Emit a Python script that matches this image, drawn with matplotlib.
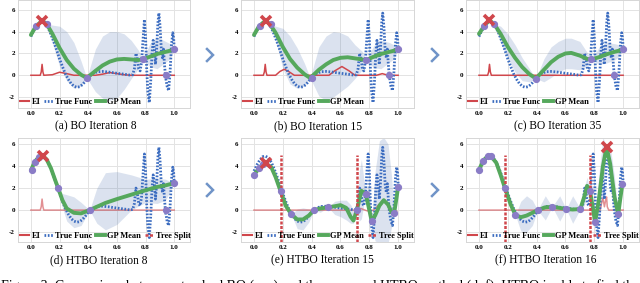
import matplotlib
matplotlib.use('Agg')
import matplotlib.pyplot as plt
from matplotlib.lines import Line2D


W, H = 640, 283

RED = '#d0474c'
BLUE = '#3b6cc0'
GREEN = '#55a85c'
PURPLE = '#8a7cc6'
BAND = '#4C72B0'
ARROW = '#7094c8'

plt.rcParams['font.family'] = ['Liberation Serif', 'DejaVu Serif']

# ---- true function (same in every panel) ----
true_x = [0.00, 0.02, 0.04, 0.06, 0.08, 0.10, 0.12, 0.14, 0.16, 0.18, 0.20, 0.22,
          0.24, 0.26, 0.28, 0.30, 0.32, 0.34, 0.36, 0.38, 0.40, 0.42, 0.44, 0.47,
          0.50, 0.54, 0.58, 0.62, 0.66, 0.69, 0.71, 0.722, 0.733, 0.743, 0.752,
          0.762, 0.772, 0.782, 0.792, 0.800, 0.808, 0.816, 0.826, 0.836, 0.845,
          0.853, 0.861, 0.869, 0.877, 0.886, 0.893, 0.901, 0.910, 0.918, 0.925,
          0.932, 0.939, 0.950, 0.961, 0.971, 0.981, 0.990, 0.996, 1.000]
true_y = [3.55, 4.10, 4.55, 4.85, 4.90, 4.75, 4.35, 3.75, 3.05, 2.30, 1.50, 0.80,
          0.15, -0.35, -0.75, -1.00, -1.10, -1.05, -0.85, -0.55, -0.20, 0.05, 0.22, 0.33,
          0.35, 0.30, 0.22, 0.15, 0.08, 0.02, 0.05, 0.6, 2.0, 1.5, 0.6,
          0.4, 1.2, 3.2, 5.1, 3.5, 0.5, -1.5, -2.5, -0.5, 2.0,
          3.2, 2.5, 1.0, 2.3, 4.8, 5.7, 4.5, 2.3, 1.6, 2.4,
          1.0, -0.1, -1.0, -1.4, 0.3, 2.8, 3.9, 3.4, 2.4]

# ---- (a) BO iteration 8 ----
gp_x_a = [0.00, 0.035, 0.08, 0.11, 0.15, 0.20, 0.25, 0.30, 0.35, 0.39, 0.45, 0.50,
          0.55, 0.60, 0.65, 0.70, 0.75, 0.78, 0.83, 0.88, 0.94, 0.97, 1.00]
gp_mu_a = [3.7, 4.5, 5.0, 4.7, 3.8, 2.5, 1.4, 0.6, 0.05, -0.25, 0.4, 0.9,
           1.25, 1.45, 1.5, 1.45, 1.4, 1.45, 1.7, 1.95, 2.15, 2.25, 2.4]
gp_lo_a = [3.6, 4.5, 5.0, 4.7, 3.0, 0.8, -0.5, -1.2, -1.0, -0.25, -1.5, -2.1,
           -2.3, -2.1, -1.3, -0.3, 0.6, 1.45, 0.8, 0.6, 1.2, 1.5, 2.4]
gp_hi_a = [3.8, 4.5, 5.0, 4.7, 4.6, 4.5, 4.0, 3.0, 1.3, -0.25, 2.4, 3.6,
           4.0, 4.0, 3.8, 3.2, 2.3, 1.45, 2.9, 3.5, 3.1, 2.9, 2.4]
ei_x_a = [0.0, 0.065, 0.072, 0.078, 0.084, 0.09, 0.15, 0.20, 0.25, 0.30, 0.45,
          0.50, 0.55, 0.60, 0.65, 0.70, 1.0]
ei_y_a = [0, 0, 0.3, 1.0, 0.3, 0, 0.05, 0.28, 0.15, 0, 0, 0.1, 0.25, 0.15, 0.05, 0, 0]
obs_x_a = [0.035, 0.11, 0.393, 0.784, 0.94, 1.0]
obs_y_a = [4.5, 4.7, -0.25, 1.45, 0.0, 2.37]
best_a = (0.08, 5.0)

# ---- (b) BO iteration 15 ----
gp_x_b = gp_x_a
gp_mu_b = [3.7, 4.5, 5.0, 4.7, 3.9, 2.6, 1.5, 0.7, 0.1, -0.25, 0.5, 1.0,
           1.4, 1.6, 1.65, 1.55, 1.45, 1.4, 1.7, 1.95, 2.15, 2.25, 2.4]
gp_lo_b = [3.6, 4.5, 5.0, 4.7, 3.2, 0.6, -0.8, -1.2, -1.0, -0.25, -1.9, -2.3,
           -2.0, -1.5, -1.0, -0.3, 0.5, 1.4, 0.7, 0.6, 1.2, 1.5, 2.4]
gp_hi_b = [3.8, 4.5, 5.0, 4.7, 4.5, 4.3, 3.6, 2.5, 1.1, -0.25, 2.6, 3.6,
           4.0, 3.9, 3.6, 2.8, 2.2, 1.4, 2.7, 3.2, 3.0, 2.8, 2.4]
ei_x_b = [0.0, 0.065, 0.072, 0.078, 0.084, 0.09, 0.15, 0.18, 0.21, 0.24, 0.28,
          0.52, 0.56, 0.61, 0.66, 0.70, 0.85, 0.89, 0.93, 1.0]
ei_y_b = [0, 0, 0.3, 1.0, 0.3, 0, 0, 0.35, 0.55, 0.35, 0,
          0, 0.4, 0.8, 0.4, 0, 0, 0.15, 0, 0]
obs_x_b = [0.04, 0.115, 0.40, 0.777, 0.938, 1.0]
obs_y_b = [4.5, 4.7, -0.25, 1.4, 0.0, 2.4]
best_b = (0.08, 5.0)

# ---- (c) BO iteration 35 ----
gp_x_c = [0.00, 0.035, 0.072, 0.105, 0.15, 0.20, 0.25, 0.30, 0.35, 0.395, 0.45, 0.50,
          0.55, 0.60, 0.64, 0.70, 0.75, 0.78, 0.83, 0.88, 0.94, 0.97, 1.00]
gp_mu_c = [3.8, 4.5, 5.05, 4.7, 3.8, 2.6, 1.6, 0.75, 0.1, -0.3, 0.5, 1.2,
           1.7, 2.0, 2.05, 1.8, 1.5, 1.45, 1.65, 1.9, 2.15, 2.25, 2.4]
gp_lo_c = [3.7, 4.5, 5.05, 4.7, 3.0, 1.6, 0.3, -0.5, -0.6, -0.3, -0.6, -0.2,
           0.3, 0.6, 0.6, 0.5, 0.9, 1.45, 1.0, 1.1, 1.4, 1.7, 2.4]
gp_hi_c = [3.9, 4.5, 5.05, 4.7, 4.5, 3.8, 2.8, 1.6, 0.6, -0.3, 1.5, 2.6,
           3.1, 3.4, 3.4, 3.1, 2.1, 1.45, 2.5, 3.0, 2.9, 2.8, 2.4]
ei_x_c = [0.0, 0.06, 0.067, 0.073, 0.079, 0.086, 1.0]
ei_y_c = [0, 0, 0.3, 1.0, 0.3, 0, 0]
obs_x_c = [0.035, 0.105, 0.395, 0.78, 0.94, 1.0]
obs_y_c = [4.5, 4.7, -0.3, 1.45, 0.0, 2.4]
best_c = (0.072, 5.05)

# ---- (d) HTBO iteration 8 ----
gp_x_d = [0.0, 0.02, 0.04, 0.06, 0.086, 0.11, 0.14, 0.17, 0.19, 0.22, 0.25, 0.30,
          0.35, 0.41, 0.46, 0.52, 0.60, 0.70, 0.80, 0.88, 0.94, 1.0]
gp_mu_d = [3.6, 4.2, 4.6, 4.85, 4.9, 4.6, 3.8, 2.7, 2.0, 0.9, 0.15, -0.25,
           -0.3, 0.0, 0.3, 0.65, 1.0, 1.4, 1.8, 2.1, 2.25, 2.45]
gp_lo_d = [3.6, 4.2, 4.6, 4.85, 4.9, 4.6, 3.8, 2.7, 2.0, 0.2, -1.0, -1.6,
           -1.4, 0.0, -1.2, -1.8, -1.3, 0.0, 0.7, 0.6, 0.9, 2.45]
gp_hi_d = [3.6, 4.2, 4.6, 4.85, 4.9, 4.6, 3.8, 2.7, 2.0, 1.5, 1.4, 1.2,
           0.7, 0.0, 2.0, 3.4, 3.5, 3.2, 2.8, 2.9, 2.8, 2.45]
ei_x_d = [0.0, 0.065, 0.072, 0.078, 0.084, 0.09, 1.0]
ei_y_d = [0, 0, 0.3, 1.0, 0.3, 0, 0]
obs_x_d = [0.005, 0.03, 0.055, 0.19, 0.41, 0.94, 1.0]
obs_y_d = [3.6, 4.4, 4.8, 2.0, 0.0, 0.0, 2.5]
best_d = (0.086, 4.9)
split_d = []

# ---- (e) HTBO iteration 15 ----
gp_x_e = [0.0, 0.035, 0.062, 0.085, 0.12, 0.15, 0.185, 0.22, 0.26, 0.30, 0.34, 0.38,
          0.417, 0.46, 0.514, 0.56, 0.60, 0.64, 0.67, 0.69, 0.715, 0.73, 0.745,
          0.775, 0.80, 0.817, 0.84, 0.87, 0.90, 0.93, 0.955, 0.972, 0.985, 1.0]
gp_mu_e = [3.2, 3.8, 4.2, 4.2, 3.9, 3.0, 1.7, 0.4, -0.4, -0.85, -0.85, -0.5,
           0.0, 0.15, 0.25, 0.35, 0.45, 0.2, -0.6, -0.95, 0.05, 0.9, 1.75,
           1.5, 0.0, -1.0, -0.5, 0.4, 0.9, 0.5, -0.2, -0.3, 0.8, 2.1]
gp_lo_e = [3.2, 3.8, 4.2, 4.2, 3.9, 3.0, 1.7, 0.1, -0.4, -1.7, -1.8, -1.1,
           0.0, -0.2, 0.25, -0.4, -0.6, -0.9, -1.2, -1.2, 0.05, -1.0, -0.8,
           1.5, -1.5, -1.0, -2.8, -3.0, -3.0, -3.0, -1.5, -0.3, 0.3, 2.1]
gp_hi_e = [3.2, 3.8, 4.2, 4.2, 3.9, 3.0, 1.7, 0.7, -0.4, 0.1, 0.2, 0.1,
           0.0, 0.5, 0.25, 0.8, 0.9, 0.9, 0.5, 0.0, 0.05, 3.5, 4.6,
           1.5, 2.5, -1.0, 3.5, 6.3, 6.6, 6.0, 3.0, -0.3, 1.3, 2.1]
ei_x_e = [0.0, 0.72, 0.74, 0.76, 0.78, 0.80, 0.83, 0.86, 0.89, 0.91, 0.93, 0.95,
          0.97, 0.99]
ei_y_e = [0, 0, 0.15, 0.05, -0.05, -0.1, 0.0, 0.4, 0.85, 0.8, 0.4, 0.0, -0.15, -0.1]
obs_x_e = [0.0, 0.035, 0.062, 0.185, 0.26, 0.417, 0.514, 0.715, 0.775, 0.817,
           0.972, 1.0]
obs_y_e = [3.2, 3.8, 4.2, 1.7, -0.4, 0.0, 0.25, 0.05, 1.5, -1.0, -0.3, 2.1]
best_e = (0.085, 4.25)
split_e = [0.188, 0.713]

# ---- (f) HTBO iteration 16 ----
gp_x_f = [0.0, 0.03, 0.06, 0.083, 0.12, 0.15, 0.18, 0.22, 0.253, 0.29, 0.33, 0.37,
          0.407, 0.46, 0.508, 0.56, 0.605, 0.65, 0.703, 0.73, 0.75, 0.77, 0.79,
          0.805, 0.83, 0.86, 0.885, 0.91, 0.94, 0.966, 0.98, 0.995]
gp_mu_f = [3.65, 4.5, 4.9, 4.9, 4.3, 3.2, 2.0, 0.5, -0.45, -0.65, -0.5, -0.25,
           0.0, 0.25, 0.3, 0.2, 0.1, 0.05, 0.1, 1.2, 2.2, 1.75, 0.2,
           -1.1, 0.8, 4.0, 5.75, 4.2, 1.2, -0.36, 1.0, 2.4]
gp_lo_f = [3.65, 4.5, 4.9, 4.9, 4.3, 3.2, 2.0, 0.2, -0.45, -1.9, -2.0, -1.4,
           0.0, -0.9, 0.3, -1.0, 0.1, -1.2, 0.1, 0.4, 1.4, 1.75, -0.6,
           -1.1, -1.5, 1.5, 5.75, 2.5, -0.8, -0.36, 0.5, 2.4]
gp_hi_f = [3.65, 4.5, 4.9, 4.9, 4.3, 3.2, 2.0, 0.8, -0.45, 0.8, 1.3, 0.9,
           0.0, 1.3, 0.3, 1.3, 0.1, 1.3, 0.1, 2.0, 3.0, 1.75, 1.0,
           -1.1, 3.0, 6.6, 5.75, 5.8, 3.0, -0.36, 1.5, 2.4]
ei_x_f = [0.0, 0.84, 0.85, 0.86, 0.87, 0.88, 0.885, 0.89, 0.90, 1.0]
ei_y_f = [0, 0, 0.6, 1.1, 0.3, 1.0, 1.2, 0.3, 0.0, 0]
obs_x_f = [0.0, 0.03, 0.06, 0.083, 0.18, 0.253, 0.407, 0.508, 0.605, 0.703,
           0.77, 0.805, 0.966, 0.99]
obs_y_f = [3.6, 4.5, 4.9, 4.9, 2.0, -0.45, 0.0, 0.3, 0.1, 0.1,
           1.75, -1.1, -0.36, 2.4]
best_f = (0.885, 5.75)
split_f = [0.18, 0.77]

split_top = 5.0

captions = ['(a) BO Iteration 8', '(b) BO Iteration 15', '(c) BO Iteration 35',
            '(d) HTBO Iteration 8', '(e) HTBO Iteration 15', '(f) HTBO Iteration 16']

x_ticks = [0.0, 0.2, 0.4, 0.6, 0.8, 1.0]
y_ticks = [-2, 0, 2, 4, 6]


def px_box(left, top, width, height):
    """ Axes rectangle given in pixels from the top left corner. """
    return [left / W, 1 - (top + height) / H, width / W, height / H]


def draw_panel(ax, tx, ty, gx, mu, lo, hi, ex, ey, ox, oy, best, splits, ylim, htbo):
    """ One BO / HTBO snapshot. """
    ax.fill_between(gx, lo, hi, color=BAND, alpha=0.2, lw=0, zorder=1)
    ax.plot(ex, ey, color=RED, lw=1.1, alpha=0.6 if htbo else 1.0, zorder=2)
    ax.plot(tx, ty, color=BLUE, lw=2.0, ls=(0, (0.6, 0.6)), zorder=3)
    ax.plot(gx, mu, color=GREEN, lw=2.8, solid_capstyle='round', zorder=4)
    for s in splits:
        ax.plot([s, s], [ylim[0], split_top], color=RED, lw=1.8,
                ls=(0, (1.2, 0.6)), zorder=5)
    ax.plot(ox, oy, 'o', color=PURPLE, ms=4.2, zorder=6)
    ax.plot([best[0]], [best[1]], 'x', color=RED, ms=7.5, mew=2.6, zorder=7)

    ax.set_xlim(-0.09, 1.11)
    ax.set_ylim(*ylim)
    ax.set_xticks(x_ticks)
    ax.set_xticklabels(['%.1f' % v for v in x_ticks])
    ax.set_yticks(y_ticks)
    ax.set_yticklabels([str(v) for v in y_ticks])
    ax.tick_params(length=0, pad=2.2, labelsize=5.0)
    for lbl in ax.get_xticklabels() + ax.get_yticklabels():
        lbl.set_fontweight('bold')
    ax.grid(True, color='#e3e3e3', lw=0.7)
    ax.set_axisbelow(True)
    for sp in ax.spines.values():
        sp.set_color('#d6d6d6')
        sp.set_linewidth(0.7)

    handles = [Line2D([], [], color=RED, lw=1.5),
               Line2D([], [], color=BLUE, lw=2.0, ls=(0, (0.6, 0.6))),
               Line2D([], [], color=GREEN, lw=2.8)]
    labels = ['EI', 'True Func', 'GP Mean']
    if htbo:
        handles.append(Line2D([], [], color=RED, lw=1.8, ls=(0, (1.2, 0.6))))
        labels.append('Tree Split')
    ax.legend(handles, labels, loc='lower left', ncol=len(labels), frameon=False,
              prop={'family': 'Liberation Serif', 'weight': 'bold', 'size': 6.0},
              handlelength=1.1, handletextpad=0.25, columnspacing=0.45,
              borderpad=0.15, borderaxespad=0.1)


fig = plt.figure(figsize=(W / 100, H / 100), dpi=100)

top_lefts = [18, 241, 466]
top_widths = [172, 173, 173]

panels = [
    (gp_x_a, gp_mu_a, gp_lo_a, gp_hi_a, ei_x_a, ei_y_a, obs_x_a, obs_y_a, best_a, []),
    (gp_x_b, gp_mu_b, gp_lo_b, gp_hi_b, ei_x_b, ei_y_b, obs_x_b, obs_y_b, best_b, []),
    (gp_x_c, gp_mu_c, gp_lo_c, gp_hi_c, ei_x_c, ei_y_c, obs_x_c, obs_y_c, best_c, []),
    (gp_x_d, gp_mu_d, gp_lo_d, gp_hi_d, ei_x_d, ei_y_d, obs_x_d, obs_y_d, best_d, split_d),
    (gp_x_e, gp_mu_e, gp_lo_e, gp_hi_e, ei_x_e, ei_y_e, obs_x_e, obs_y_e, best_e, split_e),
    (gp_x_f, gp_mu_f, gp_lo_f, gp_hi_f, ei_x_f, ei_y_f, obs_x_f, obs_y_f, best_f, split_f),
]

for i, p in enumerate(panels):
    row, col = divmod(i, 3)
    if row == 0:
        ax = fig.add_axes(px_box(top_lefts[col], 0, top_widths[col], 108))
        ylim = (-3.0, 6.9)
    else:
        ax = fig.add_axes(px_box(top_lefts[col], 138, top_widths[col], 104))
        ylim = (-2.9, 6.55)
    draw_panel(ax, true_x, true_y, *p[:8], p[8], p[9], ylim, row == 1)

cap_pos = [(96, 126), (318, 126), (558, 126), (99, 260), (322, 260), (546, 260)]
for (cx, cy), txt in zip(cap_pos, captions):
    fig.text(cx / W, 1 - cy / H, txt, ha='center', va='center', fontsize=8.3)

# chevrons between panels
for cx, cy in [(210, 55), (435, 55), (210, 190), (435, 190)]:
    fig.add_artist(Line2D([(cx - 3) / W, (cx + 3) / W, (cx - 3) / W],
                          [1 - (cy - 6) / H, 1 - cy / H, 1 - (cy + 6) / H],
                          color=ARROW, lw=1.8, solid_joinstyle='miter'))

# figure caption, only its upper part falls inside the picture
fig.text(1 / W, -6.5 / H,
         'Figure 3: Comparison between standard BO (a\u2013c) and the proposed HTBO '
         'method (d\u2013f). HTBO is able to find the',
         ha='left', va='baseline', fontsize=10.0)

fig.savefig('out.png', dpi=100)
